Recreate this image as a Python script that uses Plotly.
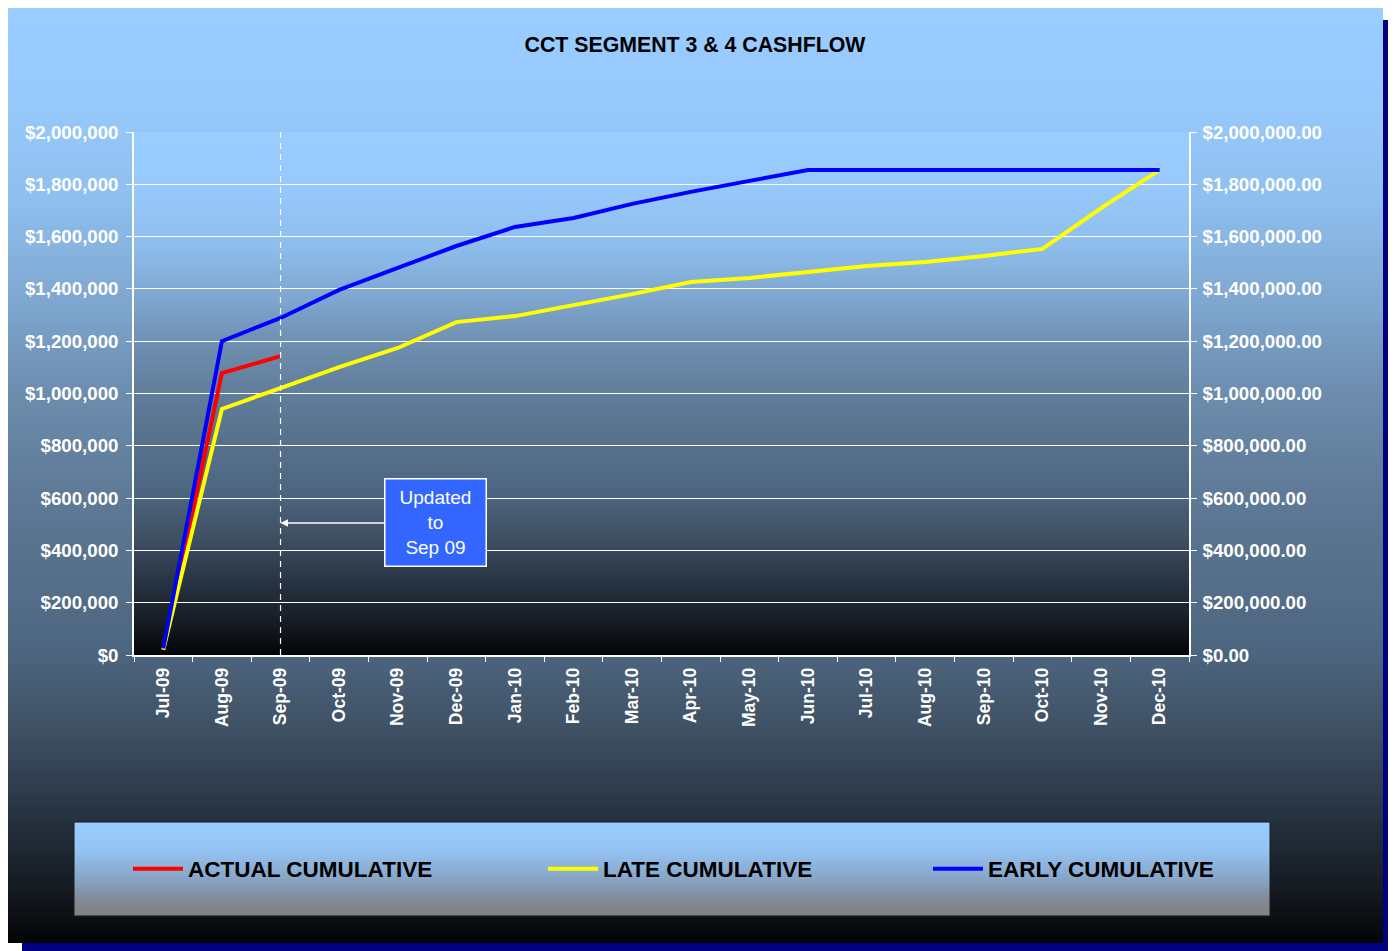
import base64
import struct
import zlib
import plotly.graph_objects as go

# ---------------- data ----------------
months = ["Jul-09", "Aug-09", "Sep-09", "Oct-09", "Nov-09", "Dec-09",
          "Jan-10", "Feb-10", "Mar-10", "Apr-10", "May-10", "Jun-10",
          "Jul-10", "Aug-10", "Sep-10", "Oct-10", "Nov-10", "Dec-10"]
actual_months = ["Jul-09", "Aug-09", "Sep-09"]
actual_cum = [20000, 1078000, 1143000]
late_cum = [20000, 941000, 1021000, 1101000, 1174000, 1273000, 1296000,
            1338000, 1380000, 1426000, 1442000, 1465000, 1488000, 1503000,
            1526000, 1553000, 1709000, 1855000]
early_cum = [25000, 1200000, 1289000, 1396000, 1480000, 1564000, 1637000,
             1671000, 1725000, 1771000, 1813000, 1855000, 1855000, 1855000,
             1855000, 1855000, 1855000, 1855000]
update_month = "Sep-09"
update_label = "Updated<br>to<br>Sep 09"
update_y = 505000
title_text = "CCT SEGMENT 3 & 4 CASHFLOW"

# ---------------- geometry helpers (reference-pixel based) ----------------
OFF = 8                      # page body margin
FW, FH = 1396 - OFF, 951 - OFF
PL, PR, PT, PB = 134, 1189, 132, 655   # plot area in reference pixels
PW, PH = PR - PL, PB - PT


def px(xp):
    return (xp - PL) / PW


def py(yp):
    return (PB - yp) / PH


def gradient_png(stops, n=256):
    rows = []
    for i in range(n):
        t = i / (n - 1)
        for k in range(len(stops) - 1):
            t0, c0 = stops[k]
            t1, c1 = stops[k + 1]
            if t0 <= t <= t1:
                f = 0 if t1 == t0 else (t - t0) / (t1 - t0)
                c = [int(round(c0[j] + (c1[j] - c0[j]) * f)) for j in range(3)]
                break
        rows.append(bytes([0] + c + c))
    raw = b"".join(rows)

    def chunk(tag, data):
        return (struct.pack(">I", len(data)) + tag + data +
                struct.pack(">I", zlib.crc32(tag + data) & 0xffffffff))

    ihdr = struct.pack(">IIBBBBB", 2, n, 8, 2, 0, 0, 0)
    png = (b"\x89PNG\r\n\x1a\n" + chunk(b"IHDR", ihdr) +
           chunk(b"IDAT", zlib.compress(raw)) + chunk(b"IEND", b""))
    return "data:image/png;base64," + base64.b64encode(png).decode()


bg_stops = [(0.00, (153, 204, 255)), (0.10, (151, 201, 252)),
            (0.21, (143, 191, 238)), (0.32, (126, 166, 207)),
            (0.42, (108, 140, 172)), (0.53, (93, 121, 149)),
            (0.63, (84, 109, 136)), (0.69, (77, 102, 128)),
            (0.78, (62, 79, 98)), (0.85, (43, 56, 72)),
            (0.95, (20, 25, 31)), (1.00, (4, 5, 7))]
legend_stops = [(0.0, (153, 204, 255)), (0.3, (148, 196, 244)),
                (0.6, (136, 165, 198)), (0.85, (128, 136, 146)),
                (1.0, (128, 128, 128))]

FONT = "Arial, Liberation Sans, sans-serif"
LEG_Y = py(869)

fig = go.Figure()
fig.add_trace(go.Scatter(x=actual_months, y=actual_cum, name="ACTUAL CUMULATIVE",
                         mode="lines", line=dict(color="#FF0000", width=4),
                         legend="legend"))
fig.add_trace(go.Scatter(x=months, y=late_cum, name="LATE CUMULATIVE",
                         mode="lines", line=dict(color="#FFFF00", width=4),
                         legend="legend2"))
fig.add_trace(go.Scatter(x=months, y=early_cum, name="EARLY CUMULATIVE",
                         mode="lines", line=dict(color="#0000FF", width=4),
                         legend="legend3"))
# invisible trace to activate the secondary (right) axis
fig.add_trace(go.Scatter(x=months, y=early_cum, yaxis="y2", mode="lines",
                         line=dict(color="rgba(0,0,0,0)", width=0),
                         showlegend=False, hoverinfo="skip"))

images = [
    dict(source=gradient_png(bg_stops), xref="paper", yref="paper",
         x=px(6), y=py(4), sizex=(1383 - 6) / PW, sizey=(943 - 4) / PH,
         sizing="stretch", xanchor="left", yanchor="top", layer="below"),
    dict(source=gradient_png(bg_stops), xref="paper", yref="paper",
         x=0, y=1, sizex=1, sizey=1,
         sizing="stretch", xanchor="left", yanchor="top", layer="below"),
    dict(source=gradient_png(legend_stops), xref="paper", yref="paper",
         x=px(74), y=py(822), sizex=(1270 - 74) / PW, sizey=(916 - 822) / PH,
         sizing="stretch", xanchor="left", yanchor="top", layer="below"),
]

shapes = [
    dict(type="rect", xref="paper", yref="paper", x0=px(1383), x1=px(1400),
         y0=py(20), y1=py(955), fillcolor="#000080", line=dict(width=0),
         layer="below"),
    dict(type="rect", xref="paper", yref="paper", x0=px(22), x1=px(1383),
         y0=py(943), y1=py(955), fillcolor="#000080", line=dict(width=0),
         layer="below"),
    dict(type="rect", xref="paper", yref="paper", x0=px(74), x1=px(1270),
         y0=py(822), y1=py(916), fillcolor="rgba(0,0,0,0)",
         line=dict(color="#1a1a1a", width=1), layer="below"),
    dict(type="line", xref="x", yref="paper", x0=update_month, x1=update_month,
         y0=0, y1=1, line=dict(color="white", width=1.2, dash="6px,5px"),
         layer="above"),
]

annotations = [
    dict(x=update_month, y=update_y, xref="x", yref="y", text=update_label,
         showarrow=True, ax=155, ay=0, arrowhead=2, arrowsize=1,
         arrowwidth=1.5, arrowcolor="white", standoff=0,
         font=dict(family=FONT, size=19, color="white"),
         bgcolor="#3366FF", bordercolor="white", borderwidth=1.5,
         borderpad=2, width=96, height=82, align="center", valign="middle"),
]

tick_font = dict(family=FONT, size=18.7, color="white", weight=700)
legend_font = dict(family=FONT, size=22.5, color="black", weight=700)


def legend_at(x_line_start):
    return dict(orientation="h", x=px(x_line_start - 5), xanchor="left",
                y=LEG_Y, yanchor="middle", bgcolor="rgba(0,0,0,0)",
                borderwidth=0, font=legend_font, itemwidth=50)


fig.update_layout(
    width=FW, height=FH,
    margin=dict(l=PL - OFF, r=FW - (PR - OFF), t=PT - OFF, b=FH - (PB - OFF)),
    paper_bgcolor="white", plot_bgcolor="rgba(0,0,0,0)",
    title=dict(text=title_text, x=(695 - OFF) / FW, xanchor="center",
               y=1 - (45 - OFF) / FH, yanchor="middle", yref="container",
               font=dict(family=FONT, size=21.3, color="black", weight=700)),
    xaxis=dict(type="category", categoryorder="array", categoryarray=months,
               range=[-0.5, len(months) - 0.5], tickson="boundaries",
               ticks="outside", ticklen=5, tickcolor="white", tickwidth=1,
               showgrid=False, showline=True, linecolor="white", linewidth=1.5,
               tickangle=-90, ticklabelstandoff=4,
               tickfont=dict(family=FONT, size=17.5, color="white", weight=700),
               zeroline=False, fixedrange=True),
    yaxis=dict(range=[0, 2000000], dtick=200000, tickformat="$,.0f",
               showgrid=True, gridcolor="white", gridwidth=1,
               showline=True, linecolor="white", linewidth=1.5,
               ticks="outside", ticklen=6, tickcolor="white",
               tickfont=tick_font, zeroline=False, ticklabelstandoff=4),
    yaxis2=dict(range=[0, 2000000], dtick=200000, tickformat="$,.2f",
                overlaying="y", side="right", anchor="x",
                showgrid=False, showline=True, linecolor="white", linewidth=1.5,
                ticks="outside", ticklen=6, tickcolor="white",
                tickfont=tick_font, zeroline=False, ticklabelstandoff=2),
    legend=legend_at(133),
    legend2=legend_at(548),
    legend3=legend_at(933),
    images=images, shapes=shapes, annotations=annotations,
    showlegend=True,
)

fig.write_html("out.html")
